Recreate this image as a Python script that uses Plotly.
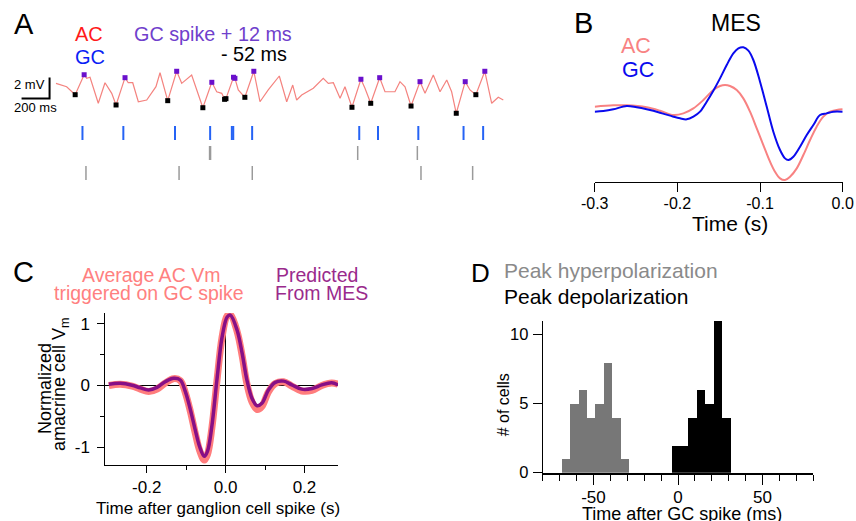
import plotly.graph_objects as go

W, H = 856, 521
FONT = "Liberation Sans, Arial, Helvetica, sans-serif"

# ---------------- Panel A data (ms, mV) ----------------
trace_t_ms = [0, 76, 137, 201, 219, 243, 302, 350, 398, 429, 493, 516, 548, 588, 648, 684,
              714, 743, 766, 798, 862, 898, 969, 1016, 1049, 1113, 1148, 1184, 1204, 1214,
              1268, 1278, 1302, 1349, 1413, 1457, 1516, 1595, 1648, 1691, 1719, 1755, 1838,
              1909, 1945, 1981, 2029, 2064, 2114, 2178, 2207, 2248, 2312, 2350, 2421, 2457,
              2493, 2536, 2600, 2636, 2695, 2743, 2791, 2826, 2859, 2923, 2957, 2999, 3063,
              3112, 3159, 3195]
trace_v_mV = [1.11, 0.79, 0.03, 1.93, 1.59, 1.69, -0.79, 1.17, 0.16, -0.95, 1.65, 1.17, 1.17,
              -0.64, -0.48, 0.16, 0.79, 2.12, 1.11, -0.54, 2.26, 1.11, 1.90, 0.16, -1.21, 1.21,
              0.31, 0.16, -0.41, -0.35, 1.69, 1.59, 0.48, -0.22, 2.26, -0.64, 0.48, 1.81, -0.64,
              0.95, -0.48, 0.0, 0.64, 1.59, 1.11, 1.17, -0.31, 0.79, -1.17, 1.50, 0.64, -0.79,
              1.65, 0.31, 0.31, 1.27, 0.79, -1.05, 1.27, 0.16, 1.90, 0.31, 1.43, 0.31, -1.74,
              1.27, 0.48, 0.03, 2.26, -0.79, -0.22, -0.48]
gc_spike_ms = [189, 481, 850, 1101, 1256, 1266, 1401, 2166, 2300, 2588, 2911, 3051]
gray_row1_ms = [1097, 1104, 2155, 2581]
gray_row2_ms = [214, 879, 1402, 2607, 2976]
peak_offset_ms = 12
trough_offset_ms = -52
peak_v_mV = [1.93, 1.65, 2.26, 1.21, 1.69, 1.59, 2.26, 1.50, 1.65, 1.27, 1.27, 2.26]
trough_v_mV = [0.03, -0.95, -0.54, -1.21, -0.41, -0.35, -0.22, -1.17, -0.79, -1.05, -1.74, 0.03]
scale_t_ms = 200
scale_v_mV = 2

# ---------------- Panel B data (s, arbitrary units) ----------------
mes_ac_t = [-0.300, -0.2774, -0.2613, -0.2371, -0.2210, -0.2048, -0.1927, -0.1806, -0.1685,
            -0.1565, -0.1484, -0.1423, -0.1363, -0.1282, -0.1202, -0.1121, -0.1040, -0.0960,
            -0.0879, -0.0819, -0.0758, -0.0698, -0.0637, -0.0556, -0.0476, -0.0395, -0.0315,
            -0.0234, -0.0153, -0.0073, 0.0]
mes_ac_v = [0.05, 0.09, 0.09, 0.03, -0.07, -0.20, -0.15, 0.0, 0.25, 0.55, 0.67, 0.70, 0.67,
            0.55, 0.30, -0.10, -0.60, -1.10, -1.60, -1.90, -2.10, -2.15, -2.05, -1.80, -1.40,
            -0.95, -0.55, -0.25, -0.10, -0.05, -0.03]
mes_gc_t = [-0.300, -0.2895, -0.2774, -0.2613, -0.2492, -0.2371, -0.2210, -0.2048, -0.1968,
            -0.1887, -0.1806, -0.1726, -0.1645, -0.1565, -0.1484, -0.1403, -0.1323, -0.1262,
            -0.1202, -0.1141, -0.1081, -0.1000, -0.0919, -0.0839, -0.0758, -0.0698, -0.0657,
            -0.0597, -0.0516, -0.0435, -0.0355, -0.0274, -0.0194, -0.0113, 0.0]
mes_gc_v = [-0.10, -0.08, -0.03, 0.07, 0.03, -0.03, -0.13, -0.25, -0.30, -0.33, -0.25, -0.10,
            0.20, 0.53, 0.90, 1.30, 1.65, 1.80, 1.83, 1.73, 1.45, 0.80, 0.05, -0.70, -1.25,
            -1.50, -1.55, -1.45, -1.15, -0.80, -0.50, -0.20, -0.15, -0.10, -0.10]
b_ticks = [-0.3, -0.2, -0.1, 0.0]
b_ticktext = ["-0.3", "-0.2", "-0.1", "0.0"]

# ---------------- Panel C data (s, normalized) ----------------
c_t = [-0.296, -0.267, -0.237, -0.216, -0.195, -0.174, -0.153, -0.132, -0.115, -0.102,
       -0.089, -0.077, -0.066, -0.054, -0.046, -0.035, -0.022, -0.009, 0.004, 0.012, 0.029,
       0.042, 0.054, 0.067, 0.080, 0.092, 0.109, 0.126, 0.147, 0.168, 0.193, 0.219, 0.244,
       0.269, 0.285]
c_avg_ac = [0.0, 0.02, -0.01, -0.06, -0.10, -0.06, 0.04, 0.11, 0.08, -0.12, -0.43, -0.77,
            -1.05, -1.21, -1.12, -0.70, 0.07, 0.78, 1.13, 1.15, 0.88, 0.48, 0.03, -0.27, -0.39,
            -0.34, -0.10, 0.03, 0.06, -0.01, -0.09, -0.08, 0.0, 0.04, 0.02]
c_pred = [0.02, 0.035, 0.003, -0.04, -0.073, -0.03, 0.06, 0.116, 0.089, -0.10, -0.40, -0.72,
          -0.99, -1.15, -1.07, -0.67, 0.09, 0.78, 1.11, 1.14, 0.90, 0.52, 0.09, -0.21, -0.33,
          -0.29, -0.07, 0.05, 0.07, 0.01, -0.06, -0.05, 0.01, 0.045, 0.01]
c_xticks = [-0.2, 0.0, 0.2]
c_xticktext = ["-0.2", "0.0", "0.2"]
c_yticks = [-1, 0, 1]
c_yticktext = ["-1", "0", "1"]

# ---------------- Panel D data (ms, counts) ----------------
bin_width_ms = 5
hyper_centers = [-66.5, -61.5, -56.5, -51.5, -46.5, -41.5, -36.5, -31.5]
hyper_counts = [1, 5, 6, 4, 5, 8, 4, 1]
depol_centers = [-1.5, 3.5, 8.5, 13.5, 18.5, 23.5, 28.5]
depol_counts = [2, 2, 4, 6, 5, 11, 4]
d_xticks = [-50, 0, 50]
d_xticktext = ["-50", "0", "50"]
d_yticks = [0, 5, 10]

# ---------------- colours ----------------
SALMON = "#f4837f"
PURPLE = "#6a10cc"
GRAY = "#777777"


def X(px):
    return px / W


def Y(py):
    return 1 - py / H


fig = go.Figure()

# ---- Panel A ----
fig.add_trace(go.Scatter(x=trace_t_ms, y=trace_v_mV, xaxis="x", yaxis="y", mode="lines",
                         line=dict(color=SALMON, width=1.2), hoverinfo="skip"))
fig.add_trace(go.Scatter(x=[s + trough_offset_ms for s in gc_spike_ms], y=trough_v_mV,
                         xaxis="x", yaxis="y", mode="markers", cliponaxis=False,
                         marker=dict(symbol="square", size=5, color="black")))
fig.add_trace(go.Scatter(x=[s + peak_offset_ms for s in gc_spike_ms], y=peak_v_mV,
                         xaxis="x", yaxis="y", mode="markers", cliponaxis=False,
                         marker=dict(symbol="square", size=5, color=PURPLE)))
sb_t0, sb_v0 = -46, -0.33
fig.add_trace(go.Scatter(x=[sb_t0 - scale_t_ms, sb_t0, sb_t0],
                         y=[sb_v0, sb_v0, sb_v0 + scale_v_mV],
                         xaxis="x", yaxis="y", mode="lines",
                         line=dict(color="black", width=2)))
for times, row, col, lw in [(gc_spike_ms, 0, "#2563f5", 2),
                            (gray_row1_ms, 1, "#9a9a9a", 1.5),
                            (gray_row2_ms, 2, "#9a9a9a", 1.5)]:
    fig.add_trace(go.Scatter(x=times, y=[row] * len(times), xaxis="x", yaxis="y2",
                             mode="markers", cliponaxis=False,
                             marker=dict(symbol="line-ns", size=10,
                                         line=dict(color=col, width=lw))))

# ---- Panel B ----
fig.add_trace(go.Scatter(x=mes_ac_t, y=mes_ac_v, xaxis="x2", yaxis="y3", mode="lines",
                         line=dict(color="#f88282", width=2, shape="spline")))
fig.add_trace(go.Scatter(x=mes_gc_t, y=mes_gc_v, xaxis="x2", yaxis="y3", mode="lines",
                         line=dict(color="#0a0aee", width=2, shape="spline")))

# ---- Panel C ----
fig.add_trace(go.Scatter(x=c_t, y=c_avg_ac, xaxis="x3", yaxis="y4", mode="lines",
                         line=dict(color="#ff7d7d", width=7, shape="spline")))
fig.add_trace(go.Scatter(x=c_t, y=c_pred, xaxis="x3", yaxis="y4", mode="lines",
                         line=dict(color="#870f86", width=3.5, shape="spline")))

# ---- Panel D ----
fig.add_trace(go.Bar(x=hyper_centers, y=hyper_counts, width=bin_width_ms, xaxis="x4",
                     yaxis="y5", marker=dict(color=GRAY, line=dict(width=0))))
fig.add_trace(go.Bar(x=depol_centers, y=depol_counts, width=bin_width_ms, xaxis="x4",
                     yaxis="y5", marker=dict(color="black", line=dict(width=0))))

hidden = dict(visible=False, showgrid=False, zeroline=False, automargin=False)
common = dict(automargin=False, showgrid=False, showline=True, linecolor="black",
              ticks="outside", tickwidth=1, tickcolor="black")

fig.update_layout(
    template="none",
    width=W, height=H, margin=dict(l=0, r=0, t=0, b=0, pad=0), autosize=False,
    paper_bgcolor="white", plot_bgcolor="white", showlegend=False,
    font=dict(family=FONT, color="black"), bargap=0,
    xaxis=dict(domain=[X(20), X(510)], range=[(20 - 56) * 200 / 28, (510 - 56) * 200 / 28],
               anchor="y", **hidden),
    yaxis=dict(domain=[Y(185), Y(60)], range=[(95 - 185) * 2 / 21, (95 - 60) * 2 / 21],
               anchor="x", **hidden),
    yaxis2=dict(range=[2.6, -3.65], overlaying="y", anchor="x", **hidden),
    xaxis2=dict(domain=[X(594.7), X(842.7)], range=[-0.3, 0.0], anchor="y3",
                linewidth=1, zeroline=False, ticklen=9,
                tickvals=b_ticks, ticktext=b_ticktext,
                tickfont=dict(family=FONT, size=16, color="black"),
                ticklabelstandoff=-2, **common),
    yaxis3=dict(domain=[Y(181.7), Y(40)], range=[-2.2, 2.05], anchor="x2", **hidden),
    xaxis3=dict(domain=[X(105.3), X(338)], range=[-0.305, 0.285], anchor="y4",
                linewidth=1, zeroline=True, zerolinecolor="black", zerolinewidth=1,
                ticklen=7, tickvals=c_xticks, ticktext=c_xticktext,
                tickfont=dict(family=FONT, size=17, color="black"),
                ticklabelstandoff=0,
                minor=dict(tickvals=[-0.1, 0.1], ticks="outside", ticklen=4,
                           tickcolor="black", tickwidth=1), **common),
    yaxis4=dict(domain=[Y(465), Y(313)], range=[-1.29, 1.175], anchor="x3",
                linewidth=1, zeroline=True, zerolinecolor="black", zerolinewidth=1,
                ticklen=7, tickvals=c_yticks, ticktext=c_yticktext,
                tickfont=dict(family=FONT, size=17, color="black"),
                ticklabelstandoff=4,
                minor=dict(tickvals=[-0.5, 0.5], ticks="outside", ticklen=4,
                           tickcolor="black", tickwidth=1), **common),
    xaxis4=dict(domain=[X(542.7), X(813.3)], range=[-80, 80], anchor="y5",
                linewidth=2, zeroline=False, ticklen=10,
                tickvals=d_xticks, ticktext=d_xticktext,
                tickfont=dict(family=FONT, size=17, color="black"), ticklabelstandoff=-2,
                minor=dict(tickvals=[v for v in range(-80, 81, 10) if v not in d_xticks],
                           ticks="outside", ticklen=6, tickcolor="black", tickwidth=1),
                **common),
    yaxis5=dict(domain=[Y(472.7), Y(320.5)], range=[0, 11], anchor="x4",
                linewidth=1, zeroline=False, ticklen=9,
                tickvals=d_yticks, tickfont=dict(family=FONT, size=16.5, color="black"),
                ticklabelstandoff=1, **common),
)


def ann(text, px, py, size, color="black", xanchor="left", angle=0):
    fig.add_annotation(text=text, x=X(px), y=Y(py), xref="paper", yref="paper",
                       xanchor=xanchor, yanchor="middle", showarrow=False,
                       textangle=angle, font=dict(family=FONT, size=size, color=color))


# Panel letters
ann("A", 12, 24, 29)
ann("B", 572, 23, 29)
ann("C", 11, 272, 29)
ann("D", 469, 272.5, 26)

# Panel A labels
ann("AC", 73, 34, 20, "#ff1a1a")
ann("GC", 73, 57.5, 20, "#0a1ef5")
ann("GC spike + 12 ms", 132, 33.5, 19.8, "#7040cc")
ann("- 52 ms", 219, 54, 19.8)
ann("2 mV", 11.5, 84.5, 13)
ann("200 ms", 12, 108, 13)

# Panel B labels
ann("MES", 736, 23, 23, xanchor="center")
ann("AC", 619, 46, 21.5, "#f88282")
ann("GC", 620, 70.5, 21.5, "#0a0aee")
ann("Time (s)", 729.5, 223, 21, xanchor="center")

# Panel C labels
ann("Average AC Vm", 151, 275, 19.5, "#ff8080", xanchor="center")
ann("triggered on GC spike", 149, 293, 19.5, "#ff8080", xanchor="center")
ann("Predicted", 317, 275, 19.5, "#9a2a8c", xanchor="center")
ann("From MES", 321, 293, 19.5, "#9a2a8c", xanchor="center")
ann("Normalized", 45, 389, 18, xanchor="center", angle=-90)
ann("amacrine cell V<sub>m</sub>", 60, 384, 18, xanchor="center", angle=-90)
ann("Time after ganglion cell spike (s)", 218, 508, 17, xanchor="center")

# Panel D labels
ann("Peak hyperpolarization", 501.5, 270, 21, "#8a8a8a")
ann("Peak depolarization", 501.5, 296.7, 21)
ann("# of cells", 503.3, 405, 16, xanchor="center", angle=-90)
ann("Time after GC spike (ms)", 681.7, 514, 18, xanchor="center")

fig.write_html("out.html", config={"displayModeBar": False},
               post_script="document.body.style.margin='0';")
